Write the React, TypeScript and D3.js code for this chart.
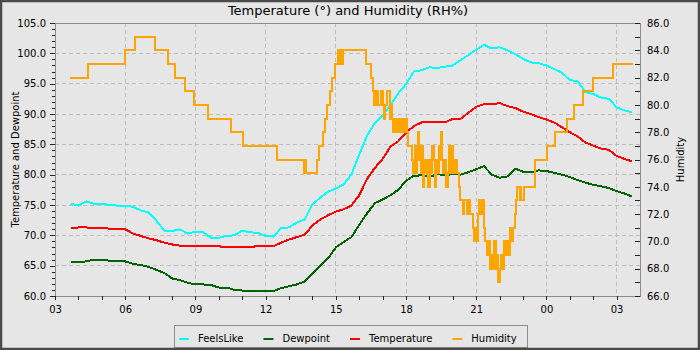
import React, { useEffect, useRef } from 'react';
import * as d3 from 'd3';

// samples every 20 minutes, first one at 03:40 (hours counted from midnight of day 1)
const firstSampleHour = 3 + 40 / 60;
const sampleStepHours = 20 / 60;

const feelsLike = [
  75.2, 74.9, 75.6, 75.2, 75.2, 75.0, 74.9, 74.9, 74.7, 74.1,
  73.8, 72.4, 70.8, 70.7, 71.0, 70.3, 70.6, 70.5, 69.6, 69.6,
  69.9, 70.0, 70.8, 70.5, 70.4, 69.9, 69.8, 71.2, 71.3, 72.1,
  72.6, 75.1, 76.2, 77.2, 77.7, 78.4, 80.0, 83.3, 86.4, 88.5,
  89.8, 91.4, 93.4, 94.9, 97.0, 97.2, 97.7, 97.6, 97.8, 98.0,
  98.9, 99.7, 100.6, 101.4, 100.8, 101.0, 100.5, 99.9, 99.1, 98.5,
  98.4, 98.0, 97.4, 96.8, 95.6, 95.4, 93.6, 93.3, 92.7, 92.5,
  91.1, 90.6, 90.3,
];

const dewpoint = [
  65.6, 65.6, 65.7, 66.0, 66.0, 65.8, 65.8, 65.7, 65.3, 65.1,
  64.8, 64.3, 63.8, 62.9, 62.6, 62.2, 61.9, 61.9, 61.8, 61.4,
  61.4, 61.0, 60.9, 60.8, 60.8, 60.8, 60.8, 61.3, 61.6, 61.9,
  62.4, 63.7, 65.0, 66.2, 68.0, 68.9, 69.7, 71.7, 73.6, 75.3,
  75.9, 76.6, 77.5, 79.0, 79.8, 79.9, 79.6, 80.1, 79.9, 80.1,
  80.0, 80.4, 80.9, 81.4, 80.0, 79.5, 79.7, 81.0, 80.5, 80.4,
  80.7, 80.6, 80.3, 80.0, 79.6, 79.1, 78.7, 78.3, 78.1, 77.8,
  77.3, 76.9, 76.4,
];

const temperature = [
  71.2, 71.3, 71.3, 71.2, 71.2, 71.1, 71.1, 71.0, 70.3, 69.9,
  69.5, 69.2, 68.8, 68.5, 68.3, 68.3, 68.3, 68.3, 68.3, 68.2,
  68.0, 68.0, 68.0, 68.1, 68.2, 68.2, 68.2, 68.8, 69.3, 69.7,
  70.1, 71.6, 72.6, 73.3, 73.9, 74.3, 74.9, 76.6, 79.3, 81.1,
  82.6, 84.6, 85.5, 86.9, 88.0, 88.6, 88.7, 88.6, 88.6, 89.2,
  89.2, 90.2, 91.2, 91.6, 91.6, 91.8, 91.3, 91.0, 90.4, 90.0,
  89.5, 89.1, 88.6, 87.8, 87.0, 86.3, 85.3, 84.8, 84.3, 84.1,
  83.1, 82.6, 82.2,
];

// humidity changes in whole steps: [hour, RH%]
const humiditySteps: [number, number][] = [
  [3.64, 82], [4.42, 83], [5.99, 84], [6.42, 85], [7.27, 84], [7.84, 83], [8.13, 82],
  [8.56, 81], [8.93, 80], [9.55, 79], [10.52, 78], [11.02, 77], [12.5, 76], [13.64, 75],
  [13.68, 76], [13.71, 75], [14.18, 76], [14.29, 77], [14.44, 78], [14.54, 79], [14.61, 80],
  [14.75, 81], [14.82, 82], [14.97, 83], [15.11, 84], [15.18, 83], [15.22, 84], [15.26, 83],
  [15.3, 84], [16.27, 83], [16.52, 82], [16.58, 81], [16.64, 80], [16.68, 81], [16.72, 80],
  [16.76, 81], [16.82, 80], [16.95, 81], [17.02, 80], [17.08, 79], [17.12, 80], [17.2, 81],
  [17.3, 79], [17.34, 80], [17.4, 79], [17.45, 78], [17.5, 79], [17.55, 78], [17.6, 79],
  [17.65, 78], [17.7, 79], [17.75, 78], [17.8, 79], [17.85, 78], [17.9, 79], [17.95, 78],
  [18.0, 79], [18.04, 78], [18.08, 77], [18.26, 76], [18.32, 75], [18.38, 77], [18.42, 75],
  [18.48, 76], [18.52, 78], [18.56, 76], [18.62, 75], [18.66, 77], [18.72, 74], [18.78, 76],
  [18.84, 75], [18.9, 76], [18.96, 74], [19.02, 76], [19.06, 75], [19.12, 77], [19.18, 76],
  [19.24, 74], [19.3, 76], [19.36, 75], [19.4, 77], [19.46, 76], [19.5, 78], [19.54, 76],
  [19.6, 75], [19.66, 76], [19.72, 74], [19.78, 75], [19.84, 77], [19.9, 75], [19.96, 77],
  [20.02, 75], [20.1, 76], [20.18, 75], [20.26, 74], [20.31, 73], [20.42, 72], [20.48, 73],
  [20.6, 72], [20.66, 73], [20.75, 72], [20.86, 71], [20.92, 70], [20.98, 71], [21.04, 70],
  [21.08, 72], [21.14, 73], [21.2, 72], [21.26, 73], [21.32, 71], [21.38, 70], [21.45, 69],
  [21.52, 70], [21.59, 68], [21.65, 69], [21.72, 68], [21.78, 70], [21.84, 68], [21.9, 69],
  [21.95, 67], [22.0, 68], [22.06, 69], [22.12, 68], [22.18, 70], [22.24, 69], [22.3, 70],
  [22.38, 69], [22.44, 71], [22.52, 70], [22.58, 71], [22.64, 72], [22.7, 73], [22.74, 74],
  [22.86, 73], [22.88, 74], [22.9, 73], [23.05, 74], [23.51, 76], [24.01, 77], [24.37, 78],
  [24.87, 79], [25.18, 80], [25.56, 81], [26.0, 82], [26.83, 83], [27.69, 83],
];

const xTickHours = [3, 6, 9, 12, 15, 18, 21, 24, 27];
const xTickLabels = ['03', '06', '09', '12', '15', '18', '21', '00', '03'];
const leftTicks = [60, 65, 70, 75, 80, 85, 90, 95, 100, 105];
const rightTicks = [66, 68, 70, 72, 74, 76, 78, 80, 82, 84, 86];

const seriesNames = ['FeelsLike', 'Dewpoint', 'Temperature', 'Humidity'];
const seriesColors = ['#00ffff', '#006400', '#ff0000', '#ffa500'];

const FONT = 'DejaVu Sans, sans-serif';

const App = () => {
  const svgRef = useRef<SVGSVGElement>(null);

  useEffect(() => {
    const width = 700;
    const height = 350;
    const plot = { left: 55, right: 640, top: 23, bottom: 296 };

    const svg = d3.select(svgRef.current);
    svg.selectAll('*').remove();

    svg.append('rect')
      .attr('width', width)
      .attr('height', height)
      .attr('fill', '#e6e6e6');

    const x = d3.scaleLinear().domain([3, 28]).range([plot.left, plot.right]);
    const yLeft = d3.scaleLinear().domain([60, 105]).range([plot.bottom, plot.top]);
    const yRight = d3.scaleLinear().domain([66, 86]).range([plot.bottom, plot.top]);

    // dashed grid
    const grid = svg.append('g')
      .attr('stroke', '#bdbdbd')
      .attr('stroke-dasharray', '4,3')
      .attr('shape-rendering', 'crispEdges');
    grid.selectAll('line.h')
      .data(leftTicks)
      .join('line')
      .attr('class', 'h')
      .attr('x1', plot.left)
      .attr('x2', plot.right)
      .attr('y1', d => yLeft(d))
      .attr('y2', d => yLeft(d));
    grid.selectAll('line.v')
      .data(xTickHours)
      .join('line')
      .attr('class', 'v')
      .attr('x1', d => x(d))
      .attr('x2', d => x(d))
      .attr('y1', plot.top)
      .attr('y2', plot.bottom);

    const sampleHours = d3.range(temperature.length).map(i => firstSampleHour + i * sampleStepHours);

    const line = d3.line<number>()
      .x((d, i) => x(sampleHours[i]))
      .y(d => yLeft(d));

    // the original is drawn without anti-aliasing
    const lines = svg.append('g')
      .attr('fill', 'none')
      .attr('stroke-width', 2)
      .attr('shape-rendering', 'crispEdges');

    [feelsLike, dewpoint, temperature].forEach((values, k) => {
      lines.append('path')
        .attr('d', line(values))
        .attr('stroke', seriesColors[k]);
    });

    const humidityLine = d3.line<[number, number]>()
      .curve(d3.curveStepAfter)
      .x(d => x(d[0]))
      .y(d => yRight(d[1]));

    lines.append('path')
      .attr('d', humidityLine(humiditySteps))
      .attr('stroke', seriesColors[3]);

    // plot frame
    svg.append('rect')
      .attr('x', plot.left)
      .attr('y', plot.top)
      .attr('width', plot.right - plot.left)
      .attr('height', plot.bottom - plot.top)
      .attr('fill', 'none')
      .attr('stroke', '#8c8c8c')
      .attr('shape-rendering', 'crispEdges');

    const styleAxis = g => {
      g.select('.domain').remove();
      g.attr('font-family', FONT).attr('font-size', 10);
      g.selectAll('line').attr('stroke', '#222').attr('shape-rendering', 'crispEdges');
      g.selectAll('text').attr('fill', '#000');
    };

    svg.append('g')
      .attr('transform', `translate(${plot.left},0)`)
      .call(d3.axisLeft(yLeft).tickValues(d3.range(60, 106)).tickSize(3).tickFormat(() => ''))
      .call(styleAxis);
    svg.append('g')
      .attr('transform', `translate(${plot.left},0)`)
      .call(d3.axisLeft(yLeft).tickValues(leftTicks).tickSize(5).tickPadding(4).tickFormat(d3.format('.1f')))
      .call(styleAxis);

    svg.append('g')
      .attr('transform', `translate(${plot.right},0)`)
      .call(d3.axisRight(yRight).tickValues(d3.range(66, 87)).tickSize(-5).tickFormat(() => ''))
      .call(styleAxis);
    svg.append('g')
      .attr('transform', `translate(${plot.right},0)`)
      .call(d3.axisRight(yRight).tickValues(rightTicks).tickSize(-5).tickPadding(7).tickFormat(d3.format('.1f')))
      .call(styleAxis);

    svg.append('g')
      .attr('transform', `translate(0,${plot.bottom})`)
      .call(d3.axisBottom(x).tickValues(d3.range(4, 28)).tickSize(4).tickFormat(() => ''))
      .call(styleAxis);
    svg.append('g')
      .attr('transform', `translate(0,${plot.bottom})`)
      .call(d3.axisBottom(x).tickValues(xTickHours).tickSize(4).tickPadding(6)
        .tickFormat((d, i) => xTickLabels[i]))
      .call(styleAxis);

    // title and axis names
    svg.append('text')
      .attr('x', 348)
      .attr('y', 15)
      .attr('text-anchor', 'middle')
      .attr('font-family', FONT)
      .attr('font-size', 13)
      .text('Temperature (°) and Humidity (RH%)');

    const midY = (plot.top + plot.bottom) / 2;
    svg.append('text')
      .attr('transform', `translate(19,${midY}) rotate(-90)`)
      .attr('text-anchor', 'middle')
      .attr('font-family', FONT)
      .attr('font-size', 10)
      .text('Temperature and Dewpoint');
    svg.append('text')
      .attr('transform', `translate(684,${midY}) rotate(-90)`)
      .attr('text-anchor', 'middle')
      .attr('font-family', FONT)
      .attr('font-size', 10)
      .text('Humidity');

    // legend, centred under the chart
    const legend = svg.append('g');
    const box = legend.append('rect')
      .attr('fill', '#e6e6e6')
      .attr('stroke', '#8c8c8c')
      .attr('shape-rendering', 'crispEdges');
    let cx = 5;
    seriesNames.forEach((name, k) => {
      legend.append('line')
        .attr('x1', cx)
        .attr('x2', cx + 10)
        .attr('y1', 339)
        .attr('y2', 339)
        .attr('stroke', seriesColors[k])
        .attr('stroke-width', 2);
      const t = legend.append('text')
        .attr('x', cx + 19)
        .attr('y', 341.5)
        .attr('font-family', FONT)
        .attr('font-size', 10)
        .text(name);
      const w = (t.node() as SVGTextElement).getComputedTextLength();
      cx += 19 + w + (k < seriesNames.length - 1 ? 20 : 10);
    });
    const legendX = Math.round(350 - cx / 2);
    legend.attr('transform', `translate(${legendX},0)`);
    box.attr('x', 0.5).attr('y', 325.5).attr('width', cx).attr('height', 22);

    // outer frame
    svg.append('rect')
      .attr('x', 1)
      .attr('y', 1)
      .attr('width', width - 2)
      .attr('height', height - 2)
      .attr('fill', 'none')
      .attr('stroke', '#4a4a4a')
      .attr('stroke-width', 2.5);
  }, []);

  return (
    <svg
      ref={svgRef}
      width={700}
      height={350}
      style={{ position: 'absolute', left: 0, top: 0, display: 'block' }}
    />
  );
};

export default App;
